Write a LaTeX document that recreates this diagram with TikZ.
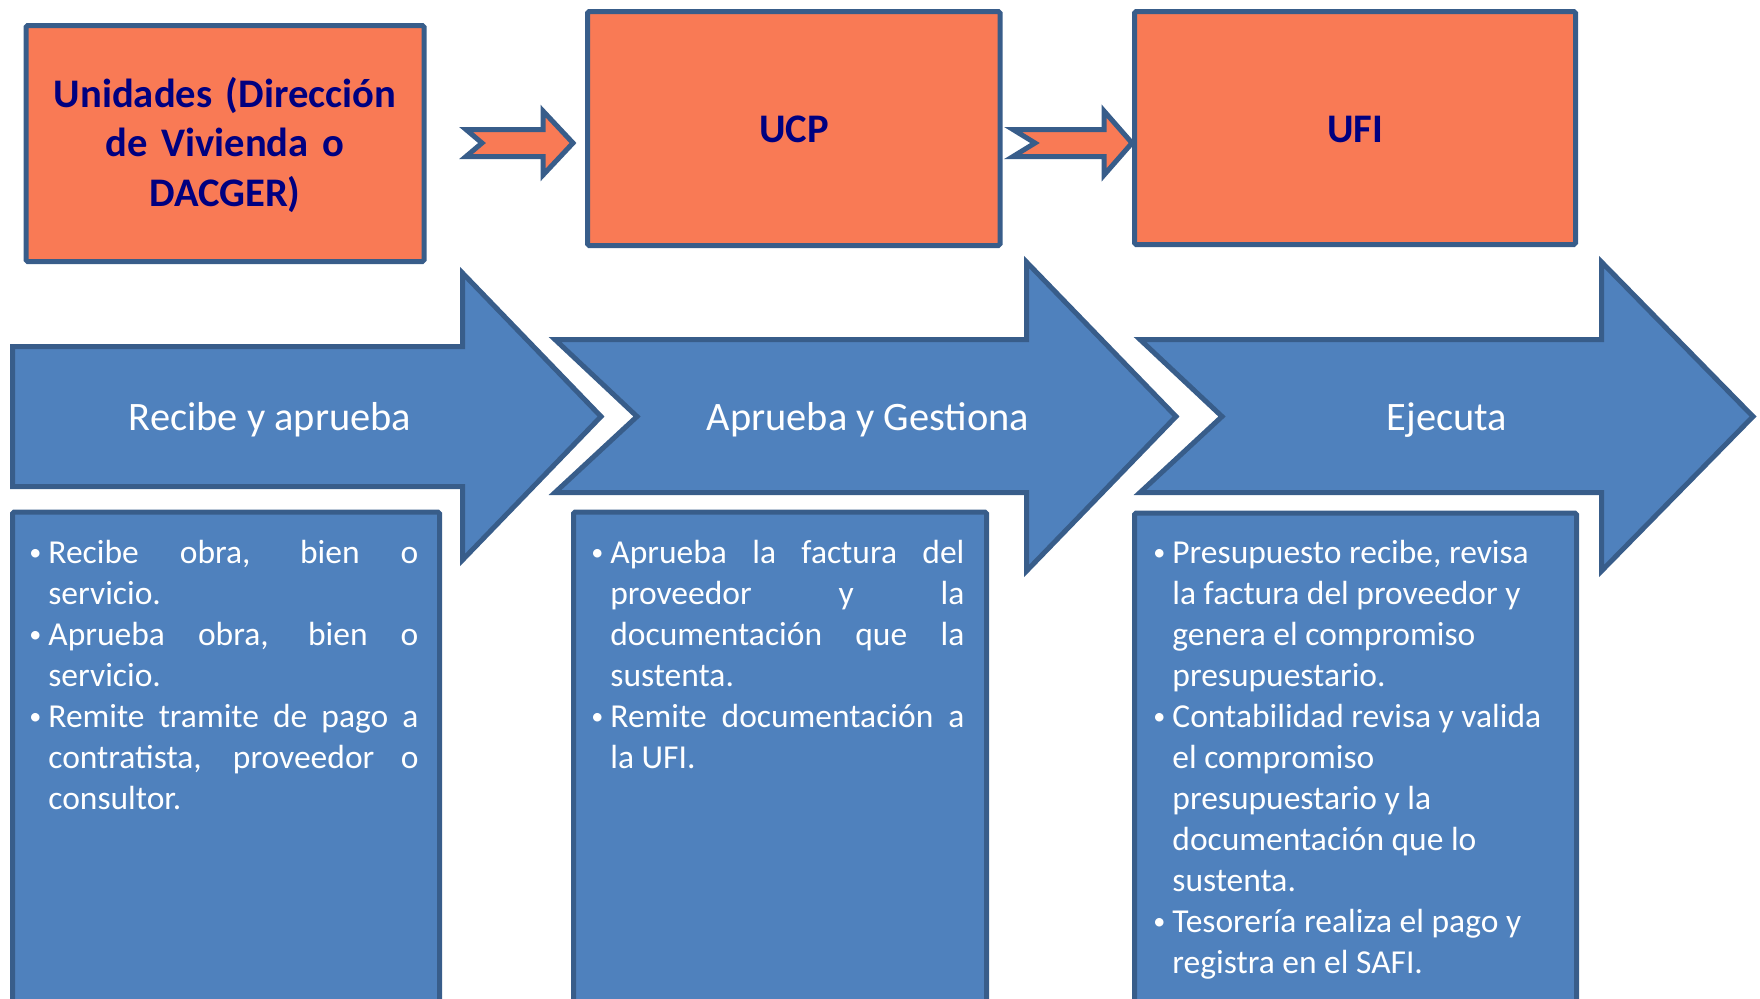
\documentclass[tikz,border=0pt]{standalone}
\usepackage{fontspec}
\usepackage{graphicx}
\setmainfont{Carlito}
\definecolor{boxorange}{HTML}{F97A55}
\definecolor{edgeblue}{HTML}{385D8A}
\definecolor{stepblue}{HTML}{4F81BD}
\definecolor{titlenavy}{HTML}{000080}
% rows of the task lists: a justified row, a ragged row and a hanging bullet
\newcommand{\jrow}[1]{\hbox to \hsize{\spaceskip=.22em plus 1fil\relax #1}}
\newcommand{\rrow}[1]{\hbox{#1}}
\newcommand{\bul}{\llap{\raisebox{.09em}{\scalebox{.72}{\textbullet}}\hspace{3.5pt}}}
\begin{document}
\begin{tikzpicture}[x=0.5pt,y=-0.5pt,
  unitbox/.style={draw=edgeblue, fill=boxorange, line width=2.5pt, rounded corners=0.8pt},
  smallarrow/.style={draw=edgeblue, fill=boxorange, line width=2.5pt, line join=miter},
  bigarrow/.style={draw=edgeblue, fill=stepblue, line width=2.5pt, line join=miter},
  listbox/.style={draw=edgeblue, fill=stepblue, line width=2.5pt, rounded corners=0.8pt},
  unittext/.style={text=titlenavy, inner sep=0pt, align=center,
    font=\fontsize{20.3}{24.75}\selectfont\bfseries},
  steptext/.style={text=white, inner sep=0pt,
    font=\fontsize{20.2}{24.6}\selectfont},
  listtext/.style={text=white, inner sep=0pt, anchor=base west,
    font=\fontsize{16.75}{20.5}\selectfont}
]
\useasboundingbox (0,0) rectangle (1760,998);
\clip (0,0) rectangle (1760,998);

% organisational units
\draw[unitbox] (26,25.5) rectangle (424,261.5);
\draw[unitbox] (587.5,11.5) rectangle (1000,245.5);
\draw[unitbox] (1134.5,11.5) rectangle (1575.5,244.5);

% notched hand-over arrows between the units
\draw[smallarrow] (466,129.5) -- (543,129.5) -- (543,111) -- (573,143)
  -- (543,175) -- (543,156.5) -- (466,156.5) -- (482,143) -- cycle;
\draw[smallarrow] (1013,129.5) -- (1104,129.5) -- (1104,111) -- (1132,143)
  -- (1104,175) -- (1104,156.5) -- (1013,156.5) -- (1035,143) -- cycle;

% process stages
\draw[bigarrow] (12.5,346.5) -- (462.5,346.5) -- (462.5,273) -- (601,416.5)
  -- (462.5,560) -- (462.5,486.5) -- (12.5,486.5) -- cycle;
\draw[bigarrow] (555,339.5) -- (1026.5,339.5) -- (1026.5,262) -- (1176,416.5)
  -- (1026.5,571) -- (1026.5,492.5) -- (555,492.5) -- (637,416.5) -- cycle;
\draw[bigarrow] (1140,339.5) -- (1601.5,339.5) -- (1601.5,262) -- (1753,416.5)
  -- (1601.5,571) -- (1601.5,492.5) -- (1140,492.5) -- (1222,416.5) -- cycle;

% task lists
\draw[listbox] (12.5,512) rectangle (439.5,1030);
\draw[listbox] (573.5,512) rectangle (986.5,1030);
\draw[listbox] (1134.5,513) rectangle (1576.5,1030);

% labels
\node[unittext, text width=210pt, anchor=base] (unidtxt) at (225,107)
  {Unidades (Dirección\\de Vivienda o\\DACGER)};
\node[unittext, anchor=base] (ucptxt) at (794,142) {UCP};
\node[unittext, anchor=base] (ufitxt) at (1355,142) {UFI};

\node[steptext, anchor=base] (stepa) at (270,430) {Recibe y aprueba};
\node[steptext, anchor=base] (stepb) at (868,430) {Aprueba y Gestiona};
\node[steptext, anchor=base] (stepc) at (1447,430) {Ejecuta};

\node[listtext] (lista) at (48,563) {\vtop{\hsize=185pt
  \jrow{\bul Recibe obra, bien o}
  \rrow{servicio.}
  \jrow{\bul Aprueba obra, bien o}
  \rrow{servicio.}
  \jrow{\bul Remite tramite de pago a}
  \jrow{contratista, proveedor o}
  \rrow{consultor.}}};
\node[listtext] (listb) at (610,563) {\vtop{\hsize=177pt
  \jrow{\bul Aprueba la factura del}
  \jrow{proveedor y la}
  \jrow{documentación que la}
  \rrow{sustenta.}
  \jrow{\bul Remite documentación a}
  \rrow{la UFI.}}};
\node[listtext] (listc) at (1172,563) {\vtop{\hsize=195pt
  \rrow{\bul Presupuesto recibe, revisa}
  \rrow{la factura del proveedor y}
  \rrow{genera el compromiso}
  \rrow{presupuestario.}
  \rrow{\bul Contabilidad revisa y valida}
  \rrow{el compromiso}
  \rrow{presupuestario y la}
  \rrow{documentación que lo}
  \rrow{sustenta.}
  \rrow{\bul Tesorería realiza el pago y}
  \rrow{registra en el SAFI.}}};
\end{tikzpicture}
\end{document}
